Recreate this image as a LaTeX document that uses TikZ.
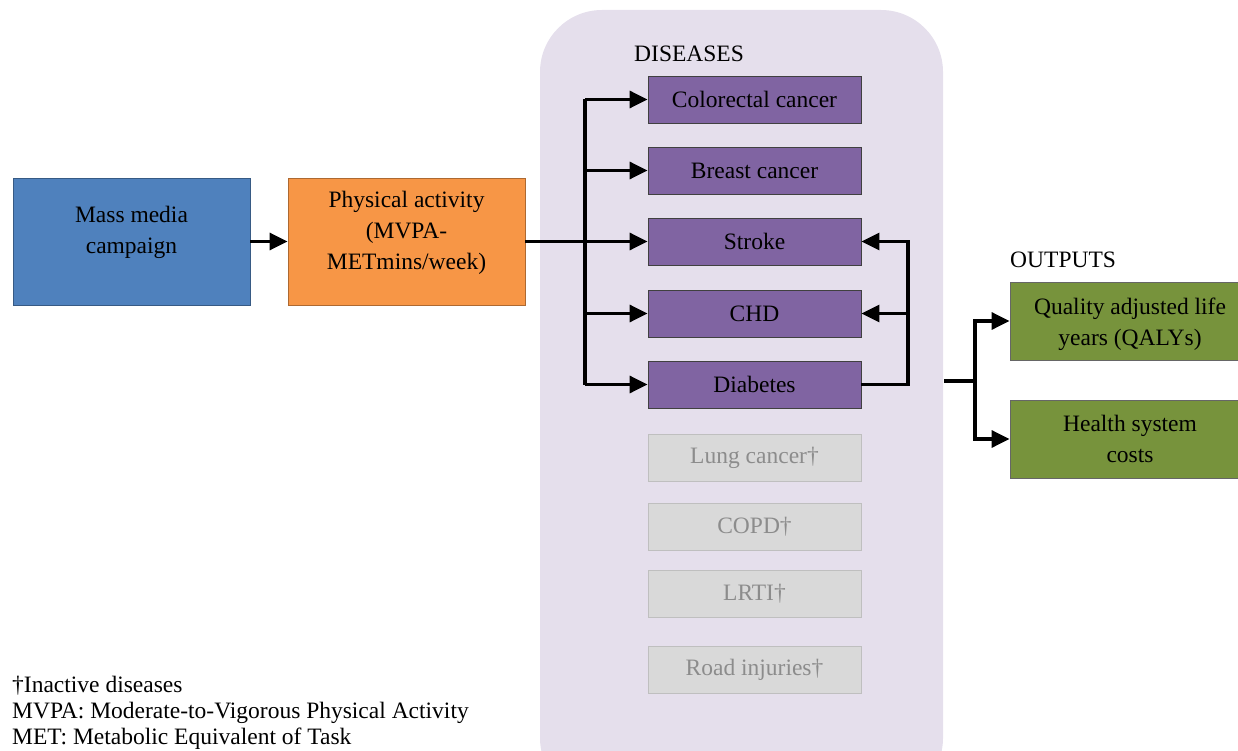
\documentclass[tikz,border=0pt]{standalone}
\usepackage{fontspec}
\setmainfont{Liberation Serif}
\newfontfamily\tnr{Liberation Serif}
\usetikzlibrary{arrows.meta}
\definecolor{bgl}{HTML}{E5DFEC}
\definecolor{blu}{HTML}{4F81BD}
\definecolor{org}{HTML}{F79646}
\definecolor{pur}{HTML}{8064A2}
\definecolor{grn}{HTML}{77933C}
\definecolor{gry}{HTML}{D9D9D9}
\definecolor{gryb}{HTML}{BFBFBF}
\definecolor{gryt}{HTML}{8C8C8C}
\tikzset{
  base/.style={font=\tnr\fontsize{23.5}{31}\selectfont, align=center, inner sep=0pt, line width=0.9pt},
  bigbox/.style={base, minimum width=237pt, minimum height=127pt},
  txt/.style={base, draw=none, fill=none},
  disbox/.style={base, fill=pur, draw=black!75, minimum width=213pt, minimum height=47pt},
  inbox/.style={base, fill=gry, draw=gryb, text=gryt, minimum width=213pt, minimum height=47pt},
  outbox/.style={base, fill=grn, draw=black!60, minimum width=240pt, minimum height=78pt},
  lbl/.style={font=\tnr\fontsize{23.5}{27}\selectfont, inner sep=0pt, anchor=west},
  conn/.style={line width=3.3pt},
  arr/.style={line width=3.3pt, -{Triangle[length=18pt,width=17pt]}},
}
\begin{document}
\begin{tikzpicture}[x=1pt,y=-1pt]
\useasboundingbox (0,0) rectangle (1238,751);
\fill[bgl, rounded corners=62pt] (540,10) rectangle (943,800);
\node[lbl] (dlab) at (634,54) {DISEASES};
\node[lbl] (olab) at (1010,260) {OUTPUTS};

\node[bigbox, fill=blu, draw=blu!70!black] (mm) at (131.5,241.5) {};
\node[txt] (mmt) at (131.5,232) {Mass media\\campaign};
\node[bigbox, fill=org, draw=org!70!black] (pa) at (406.5,241.5) {};
\node[txt] (pat) at (406.5,233) {Physical activity\\(MVPA-\\METmins/week)};

\node[disbox] (crc) at (754.5,99.5) {Colorectal cancer};
\node[disbox] (bc) at (754.5,170.5) {Breast cancer};
\node[disbox] (str) at (754.5,241.5) {Stroke};
\node[disbox] (chd) at (754.5,313.5) {CHD};
\node[disbox] (dia) at (754.5,384.5) {Diabetes};

\node[inbox] (lc) at (754.5,457.5) {Lung cancer†};
\node[inbox] (copd) at (754.5,527) {COPD†};
\node[inbox] (lrti) at (754.5,593.5) {LRTI†};
\node[inbox] (road) at (754.5,669.5) {Road injuries†};

\node[outbox] (qaly) at (1130,321) {};
\node[txt] (qalyt) at (1130,324) {Quality adjusted life\\years (QALYs)};
\node[outbox] (hsc) at (1130,439) {Health system\\costs};

\node[lbl] (l1) at (12,686) {†Inactive diseases};
\node[lbl] (l2) at (12,713) {MVPA: Moderate-to-Vigorous Physical Activity};
\node[lbl] (l3) at (12,739) {MET: Metabolic Equivalent of Task};

\coordinate (tr) at (585,0);
\coordinate (fb) at (908,0);
\coordinate (os) at (944,381);
\coordinate (oj) at (975,381);

\draw[arr] (mm.east) -- (pa.east -| pa.west);
\draw[arr] (pa.east) -- (str.west);
\draw[conn] (crc.west -| tr) -- (dia.west -| tr);
\draw[arr] (crc.west -| tr) -- (crc.west);
\draw[arr] (bc.west -| tr) -- (bc.west);
\draw[arr] (chd.west -| tr) -- (chd.west);
\draw[arr] (dia.west -| tr) -- (dia.west);

\draw[arr] (dia.east) -- (dia.east -| fb) |- (str.east);
\draw[arr] (chd.east -| fb) -- (chd.east);

\draw[conn] (os) -- (oj);
\draw[arr] (oj) |- (qaly.west);
\draw[arr] (oj) |- (hsc.west);
\end{tikzpicture}
\end{document}
